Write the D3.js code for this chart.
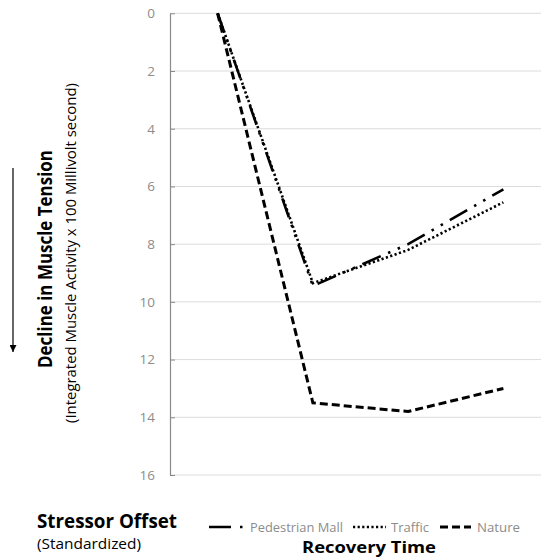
<!DOCTYPE html>
<html><head><meta charset="utf-8">
<script src="https://cdn.jsdelivr.net/npm/d3@7/dist/d3.min.js"></script>
<style>body{margin:0;background:#fff}svg{display:block}</style>
</head><body>
<script>
const categories = ["Stressor Offset", "Recovery 1", "Recovery 2", "Recovery 3"];
const pedestrianMall = [0, 9.45, 8.0, 6.1];
const traffic = [0, 9.35, 8.2, 6.55];
const nature = [0, 13.5, 13.8, 13.0];
const yTicks = [0, 2, 4, 6, 8, 10, 12, 14, 16];
const seriesNames = ["Pedestrian Mall", "Traffic", "Nature"];

const W = 541, H = 558;
const svg = d3.select("body").append("svg").attr("width", W).attr("height", H);
const font = "'Open Sans', sans-serif";

const y = d3.scaleLinear().domain([0, 16]).range([13.3, 475]);
const x = d3.scaleBand().domain(categories).range([170, 551]).padding(0);
const cx = c => x(c) + x.bandwidth() / 2;

// gridlines
svg.append("g").selectAll("line").data(yTicks).join("line")
  .attr("x1", 170).attr("x2", 551)
  .attr("y1", d => y(d)).attr("y2", d => y(d))
  .attr("stroke", "#dcdcdc").attr("stroke-width", 1);

// y axis
const yAxis = d3.axisLeft(y).tickValues(yTicks).tickSize(0).tickPadding(15);
const gy = svg.append("g").attr("transform", "translate(170,0)").call(yAxis);
gy.select(".domain").attr("stroke", "#8a8a8a").attr("stroke-width", 1.2);
gy.selectAll("text").attr("font-family", font).attr("font-size", 13.5).attr("fill", "#8c8c8c");
gy.selectAll(".tick").append("line").attr("x1", 0).attr("x2", 5).attr("stroke", "#8a8a8a");

const styles = [
  {data: pedestrianMall, dash: "20,8,2.5,8,2.5,8", w: 2.6},
  {data: traffic, dash: "2.2,2.4", w: 2.6},
  {data: nature, dash: "8,4", w: 3}
];
const line = d3.line().x((d, i) => cx(categories[i])).y(d => y(d));
styles.forEach(s => {
  svg.append("path").attr("d", line(s.data)).attr("fill", "none")
    .attr("stroke", "#000").attr("stroke-width", s.w).attr("stroke-dasharray", s.dash);
});

// left axis titles
svg.append("text").attr("transform", "translate(52,259) rotate(-90)")
  .attr("text-anchor", "middle").attr("font-family", font).attr("font-weight", "bold")
  .attr("font-size", 19).attr("textLength", 218).attr("lengthAdjust", "spacingAndGlyphs")
  .text("Decline in Muscle Tension");
svg.append("text").attr("transform", "translate(76,253) rotate(-90)")
  .attr("text-anchor", "middle").attr("font-family", font)
  .attr("font-size", 14).attr("textLength", 340).attr("lengthAdjust", "spacingAndGlyphs")
  .text("(Integrated Muscle Activity x 100 Millivolt second)");

// arrow
svg.append("defs").append("marker").attr("id", "ah").attr("viewBox", "0 0 10 10")
  .attr("refX", 10).attr("refY", 5).attr("markerWidth", 7).attr("markerHeight", 7)
  .attr("markerUnits", "userSpaceOnUse").attr("orient", "auto")
  .append("path").attr("d", "M0,0L10,5L0,10Z").attr("fill", "#000");
svg.append("line").attr("x1", 13).attr("x2", 13).attr("y1", 168).attr("y2", 352)
  .attr("stroke", "#000").attr("stroke-width", 1.2).attr("marker-end", "url(#ah)");

// bottom-left labels
svg.append("text").attr("x", 37).attr("y", 528).attr("font-family", font).attr("font-weight", "bold")
  .attr("font-size", 19).attr("textLength", 140).attr("lengthAdjust", "spacingAndGlyphs")
  .text("Stressor Offset");
svg.append("text").attr("x", 37).attr("y", 549).attr("font-family", font)
  .attr("font-size", 14).attr("textLength", 104).attr("lengthAdjust", "spacingAndGlyphs")
  .text("(Standardized)");

// legend
const legend = [
  {x1: 209, x2: 248, tx: 250, tl: 93},
  {x1: 353, x2: 386, tx: 391, tl: 38},
  {x1: 440, x2: 471, tx: 477, tl: 43}
];
const legDash = ["22,9,2.5,20", "2.2,2.4", "8,4"];
legend.forEach((l, i) => {
  svg.append("line").attr("x1", l.x1).attr("x2", l.x2).attr("y1", 527).attr("y2", 527)
    .attr("stroke", "#000").attr("stroke-width", styles[i].w).attr("stroke-dasharray", legDash[i]);
  svg.append("text").attr("x", l.tx).attr("y", 532).attr("font-family", font)
    .attr("font-size", 13.5).attr("fill", "#8c8c8c")
    .attr("textLength", l.tl).attr("lengthAdjust", "spacingAndGlyphs").text(seriesNames[i]);
});

svg.append("text").attr("x", 369).attr("y", 553).attr("text-anchor", "middle")
  .attr("font-family", font).attr("font-weight", "bold").attr("font-size", 16)
  .attr("textLength", 134).attr("lengthAdjust", "spacingAndGlyphs").text("Recovery Time");
</script>
</body></html>
